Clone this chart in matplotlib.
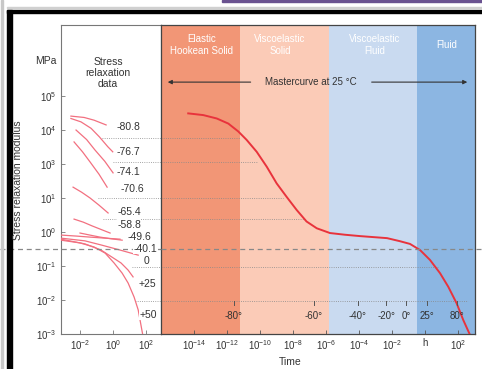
import matplotlib
matplotlib.use("Agg")
import matplotlib.pyplot as plt
from matplotlib.patches import Rectangle
import numpy as np

plt.rcParams['font.family'] = ['Liberation Sans', 'DejaVu Sans']
plt.rcParams['mathtext.default'] = 'regular'

# --- data (log10 units) ---
# stress relaxation curves, left panel: log10(time), log10(modulus)
relax_t = [
    [-2.55, -1.75, -1.15, -0.42],
    [-2.55, -1.94, -1.33, -0.83, -0.32, -0.02],
    [-2.24, -1.60, -1.09, -0.50, 0.0],
    [-2.36, -1.85, -1.39, -0.85, -0.36],
    [-2.42, -1.90, -1.39, -0.85, -0.30],
    [-2.36, -1.80, -1.27, -0.70, -0.18],
    [-2.0, -1.40, -0.79, -0.10, 0.55],
    [-3.15, -2.20, -1.39, -0.50, 0.42],
    [-3.15, -1.70, -0.73, 0.42, 1.52],
    [-3.15, -1.70, -0.73, -0.06, 0.48, 0.91, 1.21],
    [-3.15, -2.0, -1.15, -0.48, 0.06, 0.55, 0.91, 1.27, 1.52, 1.82],
]
relax_e = [
    [3.41, 3.37, 3.29, 3.15],
    [3.34, 3.24, 3.05, 2.80, 2.51, 2.36],
    [3.0, 2.72, 2.41, 2.08, 1.74],
    [2.65, 2.36, 2.06, 1.70, 1.32],
    [1.32, 1.17, 1.0, 0.79, 0.56],
    [0.38, 0.29, 0.18, 0.07, -0.03],
    [-0.03, -0.09, -0.15, -0.20, -0.24],
    [-0.09, -0.12, -0.15, -0.18, -0.21],
    [-0.18, -0.26, -0.38, -0.53, -0.68],
    [-0.21, -0.35, -0.53, -0.74, -0.91, -1.12, -1.32],
    [-0.24, -0.32, -0.44, -0.62, -0.91, -1.21, -1.50, -1.91, -2.29, -3.09],
]
temp_labels = ['-80.8', '-76.7', '-74.1', '-70.6', '-65.4', '-58.8',
               '-49.6', '-40.1', '0', '+25', '+50']
temp_label_t = [0.91, 0.91, 0.91, 1.15, 0.97, 0.97, 1.58, 1.94, 2.0, 2.06, 2.12]
temp_label_e = [3.09, 2.35, 1.76, 1.26, 0.59, 0.21, -0.15, -0.5, -0.85, -1.53, -2.44]

# mastercurve at 25 C, right panel
master_t = [-14.35, -13.44, -12.62, -11.92, -11.32, -10.81, -10.20, -9.59, -8.99, -8.38,
            -7.78, -7.18, -6.56, -5.76, -4.85, -3.94, -2.30, -1.52, -0.91, -0.30,
            0.30, 0.91, 1.41, 1.92, 2.32, 2.73]
master_e = [3.49, 3.44, 3.34, 3.19, 2.96, 2.71, 2.36, 1.92, 1.43, 1.03,
            0.65, 0.31, 0.11, -0.03, -0.08, -0.12, -0.18, -0.27, -0.35, -0.53,
            -0.82, -1.21, -1.61, -2.10, -2.59, -3.03]

# dotted guide lines: level, start in left panel, end in right panel
guide_e = [2.76, 2.06, 1.0, 0.38, -1.03, -2.03]
guide_start = [-0.67, 0.0, -0.91, -0.61, 1.15, 1.33]
guide_end = [-11.21, -10.12, -8.6, -7.27, 0.79, 2.6]

# regions
region_edges = [-16, -11.2, -5.8, -0.5, 3.0]
region_names = ['Elastic\nHookean Solid', 'Viscoelastic\nSolid', 'Viscoelastic\nFluid', 'Fluid']
region_label_t = [-13.52, -8.79, -3.03, 1.33]
region_colors = ['#f29676', '#fbcbb7', '#c9daf0', '#8cb6e2']

# shift factor temperatures on the time axis
shift_temps = ['-80°', '-60°', '-40°', '-20°', '0°', '25°', '80°']
shift_t = [-11.6, -6.73, -4.06, -2.36, -1.15, 0.12, 1.94]

y_ticks = [-3, -2, -1, 0, 1, 2, 3, 4]
y_tick_labels = ['$10^{-3}$', '$10^{-2}$', '$10^{-1}$', '$10^{0}$', '$10^{1}$',
                 '$10^{3}$', '$10^{4}$', '$10^{5}$']
left_x_ticks = [-2, 0, 2]
right_x_ticks = [-14, -12, -10, -8, -6, -4, -2, 0, 2]
right_x_labels = ['$10^{-14}$', '$10^{-12}$', '$10^{-10}$', '$10^{-8}$', '$10^{-6}$',
                  '$10^{-4}$', '$10^{-2}$', 'h', '$10^{2}$']

red = '#e8333c'
pink = '#f27080'
txt = '#333333'
dash_e = -0.5

fig = plt.figure(figsize=(4.82, 3.69), dpi=100)
W, H = 482, 369

# page decorations around the chart
fig.patches.append(Rectangle((1 / W, 0), 2 / W, 1, transform=fig.transFigure, color='#c8c8c8', zorder=0))
fig.patches.append(Rectangle((7 / W, 0), 5 / W, 1 - 10 / H, transform=fig.transFigure, color='black', zorder=0))
fig.patches.append(Rectangle((7 / W, 1 - 13 / H), 1, 3 / H, transform=fig.transFigure, color='black', zorder=0))
fig.patches.append(Rectangle((7 / W, 1 - 8 / H), 1, 1 / H, transform=fig.transFigure, color='#d0d0d0', zorder=0))
fig.patches.append(Rectangle((222 / W, 1 - 2 / H), 1, 2 / H, transform=fig.transFigure, color='#6a5290', zorder=0))

ax1 = fig.add_axes([61 / W, 35 / H, 100 / W, 309 / H])
ax2 = fig.add_axes([161 / W, 35 / H, 314 / W, 309 / H])

ylim = (10 ** -3, 10 ** 6.09)

# ---- left panel ----
for t, e in zip(relax_t, relax_e):
    ax1.plot(10 ** np.array(t), 10 ** np.array(e), color=pink, lw=0.9, zorder=3)
for lab, t, e in zip(temp_labels, temp_label_t, temp_label_e):
    ax1.text(10 ** t, 10 ** e, lab, fontsize=7.5, color=txt, ha='center', va='center', zorder=5,
             bbox=dict(facecolor='white', edgecolor='none', pad=0.3))
for e, s in zip(guide_e, guide_start):
    ax1.plot([10 ** s, 10 ** 2.9], [10 ** e, 10 ** e], color='#888888', lw=0.6, ls=':', zorder=2)
ax1.axhline(10 ** dash_e, xmin=-0.61, xmax=1, clip_on=False, color='#888888', lw=0.9,
            dashes=(4, 3), zorder=4)
ax1.set_xscale('log')
ax1.set_yscale('log')
ax1.set_xlim(10 ** -3.15, 10 ** 2.9)
ax1.set_ylim(*ylim)
ax1.set_xticks([10.0 ** k for k in left_x_ticks])
ax1.set_xticklabels(['$10^{%d}$' % k for k in left_x_ticks])
ax1.set_yticks([10.0 ** k for k in y_ticks])
ax1.set_yticklabels(y_tick_labels)
ax1.minorticks_off()
ax1.tick_params(direction='in', length=3, width=0.6, labelsize=7, colors='#777777',
                labelcolor=txt, pad=3)
for s in ax1.spines.values():
    s.set_color('#777777')
    s.set_linewidth(0.8)
ax1.text(0.47, 0.845, 'Stress\nrelaxation\ndata', transform=ax1.transAxes, ha='center',
         va='center', fontsize=7.5, color=txt, linespacing=1.15)

# ---- right panel ----
for i, name in enumerate(region_names):
    ax2.axvspan(10 ** region_edges[i], 10 ** region_edges[i + 1], color=region_colors[i],
                lw=0, zorder=0)
    ax2.text(10 ** region_label_t[i], 0.935, name, transform=ax2.get_xaxis_transform(),
             ha='center', va='center', fontsize=7, color='white', linespacing=1.2)
for e, end in zip(guide_e, guide_end):
    ax2.plot([10 ** -16, 10 ** end], [10 ** e, 10 ** e], color='#888888', lw=0.6, ls=':', zorder=2)
ax2.axhline(10 ** dash_e, xmin=0, xmax=(W - 161) / 314, clip_on=False, color='#888888', lw=0.9,
            dashes=(4, 3), zorder=4)
ax2.plot(10 ** np.array(master_t), 10 ** np.array(master_e), color=red, lw=1.4, zorder=3,
         solid_joinstyle='round')

for lab, t in zip(shift_temps, shift_t):
    ax2.plot([10 ** t, 10 ** t], [10 ** -2.03, 10 ** -2.15], color='#555555', lw=0.7, zorder=3)
    ax2.text(10 ** t, 10 ** -2.47, lab, ha='center', va='center', fontsize=7, color=txt, zorder=3)

# mastercurve arrow
arrow_e = 10 ** 4.41
ax2.text(10 ** -6.91, arrow_e, 'Mastercurve at 25 °C', ha='center', va='center', fontsize=7,
         color=txt)
ax2.annotate('', xy=(10 ** -15.76, arrow_e), xytext=(10 ** -10.4, arrow_e),
             arrowprops=dict(arrowstyle='-|>', color='#333333', lw=0.8, mutation_scale=6))
ax2.annotate('', xy=(10 ** 2.73, arrow_e), xytext=(10 ** -3.4, arrow_e),
             arrowprops=dict(arrowstyle='-|>', color='#333333', lw=0.8, mutation_scale=6))

ax2.set_xscale('log')
ax2.set_yscale('log')
ax2.set_xlim(10 ** -16, 10 ** 3.03)
ax2.set_ylim(*ylim)
ax2.set_xticks([10.0 ** k for k in right_x_ticks])
ax2.set_xticklabels(right_x_labels)
ax2.set_yticks([])
ax2.minorticks_off()
ax2.tick_params(axis='x', direction='in', length=3, width=0.6, labelsize=7, colors='#555555',
                labelcolor=txt, pad=3)
ax2.tick_params(axis='y', left=False, labelleft=False, which='both')
for s in ax2.spines.values():
    s.set_color('#444444')
    s.set_linewidth(0.9)

fig.text(18 / W, 1 - 180 / H, 'Stress relaxation modulus', rotation=90, ha='center', va='center',
         fontsize=7.5, color=txt)
fig.text(57 / W, 1 - 61 / H, 'MPa', ha='right', va='center', fontsize=7.5, color=txt)
fig.text(290 / W, 1 - 362 / H, 'Time', ha='center', va='center', fontsize=7.5, color=txt)

fig.savefig('out.png', dpi=100)
